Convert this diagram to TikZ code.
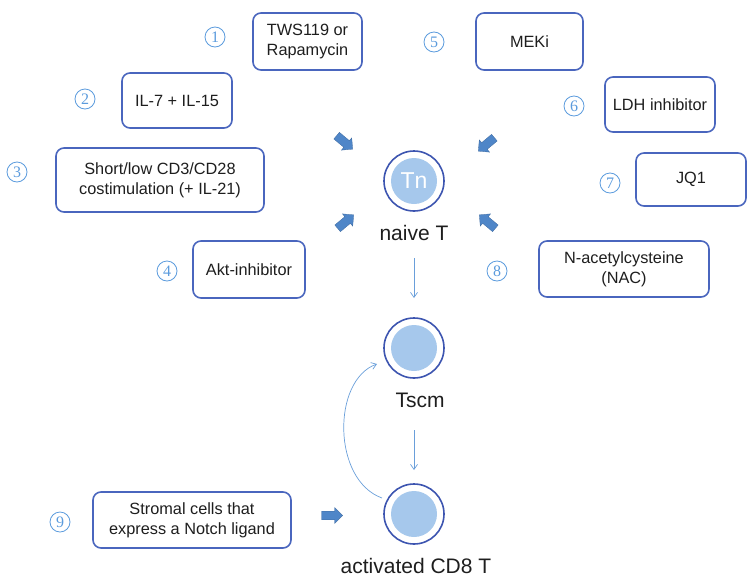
\documentclass[tikz,border=0pt]{standalone}
\usepackage{fontspec}
\setmainfont{Liberation Sans}
\newfontfamily\numfont{Liberation Serif}
\usetikzlibrary{shapes.arrows,arrows.meta}
\definecolor{boxblue}{HTML}{4A66BE}
\definecolor{ringblue}{HTML}{3D55B0}
\definecolor{cellfill}{HTML}{A6C8EC}
\definecolor{arrowblue}{HTML}{4F86C8}
\definecolor{numblue}{HTML}{5B9BDD}
\definecolor{lineblue}{HTML}{6A9FDA}
\definecolor{txt}{HTML}{1E1E1E}
\tikzset{
  agent/.style={draw=boxblue, line width=1.6pt, rounded corners=8pt, fill=white,
    align=center, text=txt, font=\fontsize{16.3}{20}\selectfont, inner sep=0pt},
  num/.style={circle, draw=numblue, line width=0.8pt, minimum size=20pt, inner sep=0pt,
    text=numblue, font=\numfont\fontsize{16}{16}\selectfont},
  ring/.style={circle, draw=ringblue, line width=1.6pt, minimum size=60pt, inner sep=0pt},
  core/.style={circle, fill=cellfill, minimum size=46pt, inner sep=0pt, text=white,
    font=\fontsize{23}{23}\selectfont},
  celllabel/.style={text=txt, font=\fontsize{21}{21}\selectfont},
  barrow/.style={single arrow, fill=arrowblue, draw=arrowblue!80!black, line width=0.3pt,
    minimum height=21pt, minimum width=16pt, single arrow head extend=3.5pt,
    inner xsep=1pt, inner ysep=4pt},
  flow/.style={draw=lineblue, line width=0.7pt, -{Straight Barb[length=5pt,width=7pt]}},
}
\begin{document}
\begin{tikzpicture}[x=1pt,y=-1pt]
\useasboundingbox (0,0) rectangle (754,581);
% agent boxes
\node[agent, minimum width=109pt, minimum height=57pt] (b1) at (307.5,41.5) {TWS119 or\\Rapamycin};
\node[agent, minimum width=107pt, minimum height=57pt] (b5) at (529.5,41.5) {MEKi};
\node[agent, minimum width=110pt, minimum height=55pt] (b2) at (177,100.5) {IL-7 + IL-15};
\node[agent, minimum width=110pt, minimum height=55pt] (b6) at (660,104.5) {LDH inhibitor};
\node[agent, minimum width=208pt, minimum height=64pt] (b3) at (160,180) {Short/low CD3/CD28\\costimulation (+ IL-21)};
\node[agent, minimum width=110pt, minimum height=53pt] (b7) at (691,179.5) {JQ1};
\node[agent, minimum width=112pt, minimum height=57pt] (b4) at (249,269.5) {Akt-inhibitor};
\node[agent, minimum width=170pt, minimum height=56pt] (b8) at (624,269) {N-acetylcysteine\\(NAC)};
\node[agent, minimum width=198pt, minimum height=56pt] (b9) at (192,520) {Stromal cells that\\express a Notch ligand};
% numbers
\node[num] (n1) at (215,37) {1};
\node[num] (n2) at (85,99) {2};
\node[num] (n3) at (17,172) {3};
\node[num] (n4) at (167,271) {4};
\node[num] (n5) at (434,42) {5};
\node[num] (n6) at (574,106) {6};
\node[num] (n7) at (610,183) {7};
\node[num] (n8) at (497,271) {8};
\node[num] (n9) at (60,522) {9};
% cells
\node[ring] (tn) at (414,181) {};
\node[core] (tnc) at (tn.center) {Tn};
\node[celllabel] (tnl) at (414,233) {naive T};
\node[ring] (ts) at (414,348) {};
\node[core] (tsc) at (ts.center) {};
\node[celllabel] (tsl) at (420,400) {Tscm};
\node[ring] (ta) at (414,514) {};
\node[core] (tac) at (ta.center) {};
\node[celllabel] (tal) at (416,566) {activated CD8 T};
% block arrows
\node[barrow, rotate=-40] (a1) at (343,141) {};
\node[barrow, rotate=-140] (a5) at (488,143) {};
\node[barrow, rotate=40] (a4) at (344,223) {};
\node[barrow, rotate=140] (a8) at (489,223) {};
\node[barrow] (a9) at (330,515.5) {};
% flow arrows
\coordinate (f1s) at (414,258);
\coordinate (f1e) at (414,298);
\coordinate (f2s) at (414,430);
\coordinate (f2e) at (414,470);
\draw[flow] (f1s) -- (f1e);
\draw[flow] (f2s) -- (f2e);
\coordinate (cs) at (382,498);
\coordinate (ce) at (377,364);
\draw[flow] (cs) .. controls (332,480) and (332,380) .. (ce);
\end{tikzpicture}
\end{document}
